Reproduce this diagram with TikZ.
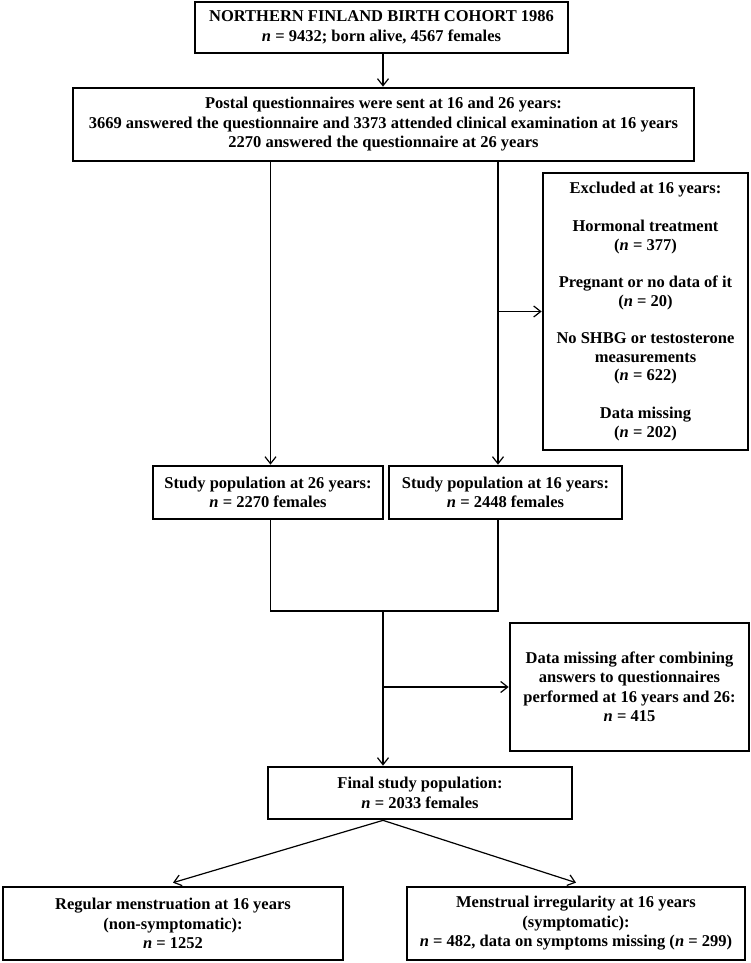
\documentclass[tikz,border=0pt]{standalone}
\usepackage{fontspec}
\setmainfont{Liberation Serif}
\usetikzlibrary{arrows.meta}
\tikzset{
  box/.style={draw, line width=2.7pt, inner sep=0pt, align=center,
    font=\fontsize{16.5}{19.5}\selectfont\bfseries},
  conn/.style={line width=1.2pt},
  arr/.style={conn, -{Straight Barb[length=7pt,width=11pt]}},
}
\begin{document}
\begin{tikzpicture}[x=1pt,y=-1pt]
\useasboundingbox (0,0) rectangle (750,963);
\node[box, minimum width=373pt, minimum height=51pt] (b1) at (381.5,27.5)
  {NORTHERN FINLAND BIRTH COHORT 1986\\\textit{n} = 9432; born alive, 4567 females};
\node[box, minimum width=621pt, minimum height=73pt] (b2) at (383.5,124.5)
  {Postal questionnaires were sent at 16 and 26 years:\\3669 answered the questionnaire and 3373 attended clinical examination at 16 years\\2270 answered the questionnaire at 26 years};
\node[box, minimum width=205pt, minimum height=277pt, font=\fontsize{16.5}{18.7}\selectfont\bfseries] (excl) at (645.5,311.5)
  {Excluded at 16 years:\\[18.7pt]Hormonal treatment\\(\textit{n} = 377)\\[18.7pt]Pregnant or no data of it\\(\textit{n} = 20)\\[18.7pt]No SHBG or testosterone\\measurements\\(\textit{n} = 622)\\[18.7pt]Data missing\\(\textit{n} = 202)};
\node[box, minimum width=230pt, minimum height=53pt] (s26) at (268,492.5)
  {Study population at 26 years:\\\textit{n} = 2270 females};
\node[box, minimum width=233pt, minimum height=53pt] (s16) at (505.5,492.5)
  {Study population at 16 years:\\\textit{n} = 2448 females};
\node[box, minimum width=239pt, minimum height=128pt] (miss) at (629.5,687)
  {Data missing after combining\\answers to questionnaires\\performed at 16 years and 26:\\\textit{n} = 415};
\node[box, minimum width=304pt, minimum height=52pt] (fin) at (420,793)
  {Final study population:\\\textit{n} = 2033 females};
\node[box, minimum width=340pt, minimum height=73pt] (reg) at (173,923.5)
  {Regular menstruation at 16 years\\(non-symptomatic):\\\textit{n} = 1252};
\node[box, minimum width=338pt, minimum height=73pt] (irr) at (576,923.5)
  {Menstrual irregularity at 16 years\\(symptomatic):\\\textit{n} = 482, data on symptoms missing (\textit{n} = 299)};
\coordinate (cl) at (270.5,0);
\coordinate (cr) at (498,0);
\coordinate (j) at (383,611);
\draw[arr] (b1.south -| j) -- (b2.north -| j);
\draw[arr] (b2.south -| cl) -- (s26.north -| cl);
\draw[arr] (b2.south -| cr) -- (s16.north -| cr);
\draw[arr] (excl.west -| cr) -- (excl.west);
\draw[conn] (s26.south -| cl) |- (j) -| (s16.south -| cr);
\draw[arr] (j) -- (fin.north -| j);
\draw[arr] (miss.west -| j) -- (miss.west);
\draw[arr] (fin.south -| j) -- ([yshift=3pt]reg.north);
\draw[arr] (fin.south -| j) -- ([yshift=3pt]irr.north);
\end{tikzpicture}
\end{document}
